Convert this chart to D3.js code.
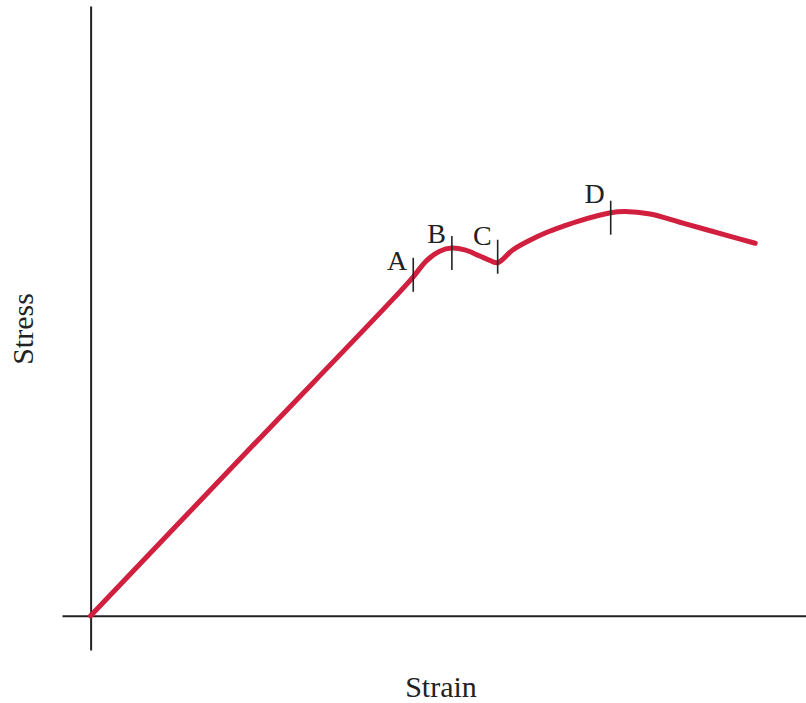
<!DOCTYPE html>
<html>
<head>
<meta charset="utf-8">
<script src="https://cdn.jsdelivr.net/npm/d3@7"></script>
<style>
    html, body { margin: 0; padding: 0; background: #fff; }
    svg { display: block; }
    text { font-family: 'Liberation Serif', 'Times New Roman', serif; fill: #222; }
</style>
</head>
<body>
<div id="chart"></div>
<script>
// Curve (arbitrary units)
const strain = [0, 2.2, 4.2, 4.51, 4.70, 4.88, 5.05, 5.23, 5.44, 5.58, 5.69, 5.90, 6.14, 6.38, 6.61, 6.81, 7.27, 7.47, 7.82, 8.28, 8.98, 9.29];
const stress = [0, 2.71, 5.16, 5.56, 5.83, 5.98, 6.03, 6.0, 5.9, 5.83, 5.79, 6.0, 6.16, 6.29, 6.39, 6.47, 6.61, 6.63, 6.59, 6.44, 6.21, 6.11];

// Marked points
const markerLabels = ['A', 'B', 'C', 'D'];
const markerStrain = [4.51, 5.05, 5.69, 7.27];
const markerStress = [5.56, 6.03, 5.79, 6.61];

// Layout tweaks per marker: tick shift and label baseline offset (px)
const tickShift = [-2, 5, -6, 5];
const labelDy = [-7, -5, -18, -10];

document.addEventListener('DOMContentLoaded', () => {
    drawChart();
});

function drawChart() {
    const width = 806;
    const height = 703;

    const svg = d3.select('#chart')
        .append('svg')
        .attr('width', width)
        .attr('height', height);

    const x = d3.scaleLinear()
        .domain([-0.4, 10])
        .range([62, 806]);

    const y = d3.scaleLinear()
        .domain([-0.56, 10])
        .range([650, 6]);

    // Axes without ticks
    const xAxis = svg.append('g')
        .attr('transform', `translate(0, ${y(0)})`)
        .call(d3.axisBottom(x).tickValues([]).tickSizeOuter(0));

    const yAxis = svg.append('g')
        .attr('transform', `translate(${x(0)}, 0)`)
        .call(d3.axisLeft(y).tickValues([]).tickSizeOuter(0));

    [xAxis, yAxis].forEach(g => {
        g.select('.domain')
            .attr('stroke', '#222')
            .attr('stroke-width', 2);
    });

    // Stress-strain curve
    const points = strain.map((s, i) => ({ strain: s, stress: stress[i] }));

    const line = d3.line()
        .x(d => x(d.strain))
        .y(d => y(d.stress))
        .curve(d3.curveCatmullRom.alpha(0.5));

    svg.append('path')
        .datum(points)
        .attr('d', line)
        .attr('fill', 'none')
        .attr('stroke', '#d1203f')
        .attr('stroke-width', 5)
        .attr('stroke-linecap', 'round')
        .attr('stroke-linejoin', 'round');

    // Markers
    const markers = markerLabels.map((label, i) => ({
        label,
        strain: markerStrain[i],
        stress: markerStress[i],
        shift: tickShift[i],
        dy: labelDy[i]
    }));

    const m = svg.selectAll('.marker')
        .data(markers)
        .enter()
        .append('g')
        .attr('class', 'marker');

    m.append('line')
        .attr('x1', d => x(d.strain))
        .attr('x2', d => x(d.strain))
        .attr('y1', d => y(d.stress) + d.shift - 17)
        .attr('y2', d => y(d.stress) + d.shift + 17)
        .attr('stroke', '#222')
        .attr('stroke-width', 1.6);

    m.append('text')
        .attr('x', d => x(d.strain) - 6)
        .attr('y', d => y(d.stress) + d.dy)
        .attr('text-anchor', 'end')
        .style('font-size', '28px')
        .text(d => d.label);

    // Axis titles
    svg.append('text')
        .attr('x', 441)
        .attr('y', 697)
        .attr('text-anchor', 'middle')
        .style('font-size', '30px')
        .text('Strain');

    svg.append('text')
        .attr('transform', 'translate(33, 329) rotate(-90)')
        .attr('text-anchor', 'middle')
        .style('font-size', '30px')
        .text('Stress');
}
</script>
</body>
</html>
